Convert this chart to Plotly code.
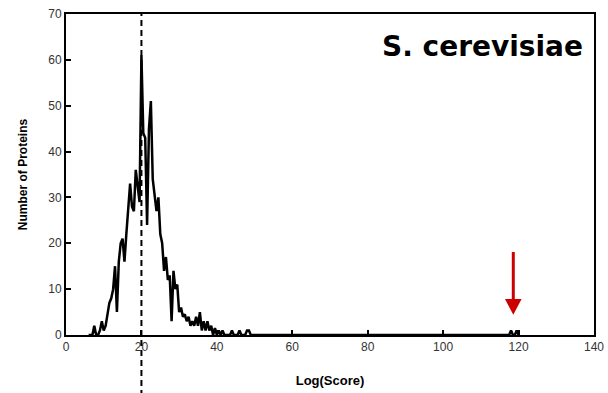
import plotly.graph_objects as go

# Log(Score) bins and protein counts
log_score = [6.0, 6.5, 7.0, 7.5, 8.0, 8.5, 9.0, 9.5, 10.0, 10.5,
             11.0, 11.5, 12.0, 12.5, 13.0, 13.5, 14.0, 14.5, 15.0, 15.5,
             16.0, 16.5, 17.0, 17.5, 18.0, 18.5, 19.0, 19.5, 20.0, 20.5,
             21.0, 21.5, 22.0, 22.5, 23.0, 23.5, 24.0, 24.5, 25.0, 25.5,
             26.0, 26.5, 27.0, 27.5, 28.0, 28.5, 29.0, 29.5, 30.0, 30.5,
             31.0, 31.5, 32.0, 32.5, 33.0, 33.5, 34.0, 34.5, 35.0, 35.5,
             36.0, 36.5, 37.0, 37.5, 38.0, 38.5, 39.0, 39.5, 40.0, 40.5,
             41.0, 41.5, 42.0, 42.5, 43.0, 43.5, 44.0, 44.5, 45.0, 45.5,
             46.0, 46.5, 47.0, 47.5, 48.0, 48.5, 49.0, 49.5, 50.0, 117.0,
             117.5, 118.0, 118.5, 119.0, 119.5, 120.0]
num_proteins = [0, 0, 0, 2, 0, 0, 1, 3, 1, 2,
                5, 7, 8, 10, 15, 5, 16, 20, 21, 16,
                22, 28, 33, 28, 27, 36, 33, 29, 61, 44,
                43, 24, 45, 51, 34, 30, 27, 30, 22, 20,
                14, 17, 12, 13, 3, 14, 10, 11, 5, 6,
                4, 4.5, 3, 4, 2, 3, 2, 4, 2, 5,
                1, 3, 1, 3, 1, 2, 0, 1.5, 0, 1,
                0, 1, 0, 0, 0, 0, 1, 0, 0, 0,
                1, 0, 0, 0, 1, 1, 0, 0, 0, 0,
                0, 1, 0, 0, 1, 0]

x_ticks = [0, 20, 40, 60, 80, 100, 120, 140]
y_ticks = [0, 10, 20, 30, 40, 50, 60, 70]
mean_score = 20
arrow_score = 118.6

fig = go.Figure()
fig.add_trace(go.Scatter(x=log_score, y=num_proteins, mode="lines",
                         line=dict(color="black", width=2.5), hoverinfo="skip",
                         showlegend=False))

axis_common = dict(showline=True, linecolor="black", linewidth=2, mirror=True,
                   ticks="inside", ticklen=5, tickwidth=2, tickcolor="black",
                   showgrid=False, zeroline=False, automargin=False,
                   tickfont=dict(family="Liberation Sans, Arial", size=12, color="#333"))

fig.update_xaxes(range=[0, 140], tickvals=x_ticks,
                 title=dict(text="<b>Log(Score)</b>", standoff=22,
                            font=dict(family="Liberation Sans, Arial", size=13, color="black")),
                 **axis_common)
fig.update_yaxes(range=[0, 70], tickvals=y_ticks,
                 title=dict(text="<b>Number of Proteins</b>", standoff=18,
                            font=dict(family="Liberation Sans, Arial", size=12, color="black")),
                 **axis_common)

# dashed vertical line at mean score
fig.add_shape(type="line", xref="x", yref="paper", x0=mean_score, x1=mean_score,
              y0=-0.19, y1=1, line=dict(color="black", width=2, dash="6px,4px"))

# red arrow
fig.add_shape(type="line", xref="x", yref="y", x0=arrow_score, x1=arrow_score,
              y0=18.1, y1=7.5, line=dict(color="#cc0000", width=3))
fig.add_shape(type="path", xref="x", yref="y",
              path=f"M {arrow_score-2.2},7.85 L {arrow_score+2.2},7.85 L {arrow_score},4.4 Z",
              fillcolor="#cc0000", line=dict(color="#cc0000", width=0))

fig.add_annotation(text="<b>S. cerevisiae</b>", xref="paper", yref="paper",
                   x=0.788, y=0.9, xanchor="center", yanchor="middle", showarrow=False,
                   font=dict(family="DejaVu Sans", size=28, color="black"))

fig.update_layout(width=608, height=393, margin=dict(l=66, r=14, t=14, b=58),
                  plot_bgcolor="white", paper_bgcolor="white")

fig.write_html("out.html")
